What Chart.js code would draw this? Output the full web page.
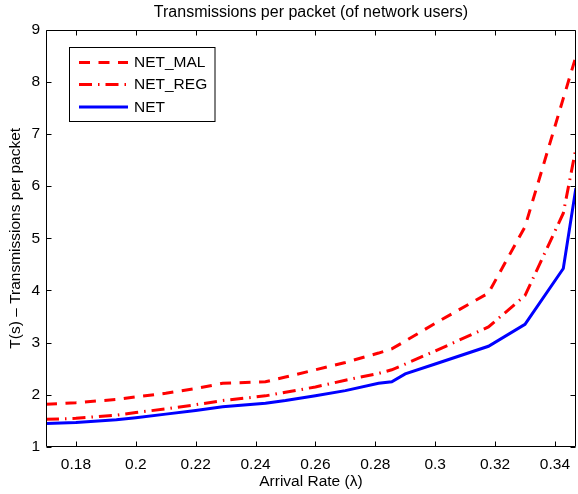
<!DOCTYPE html>
<html><head><meta charset="utf-8">
<script src="https://cdn.jsdelivr.net/npm/chart.js@4/dist/chart.umd.min.js"></script>
<style>html,body{margin:0;padding:0;background:#fff;overflow:hidden}#wrap{width:578px;height:494px}</style>
</head><body><div id="wrap"><canvas id="c" width="578" height="494"></canvas></div>
<script>
// ---- data ----
const arrivalRate = [0.17, 0.18, 0.1935, 0.20, 0.21, 0.22, 0.229, 0.2433, 0.25, 0.26, 0.27, 0.2811, 0.2855, 0.29, 0.30, 0.3178, 0.33, 0.3428, 0.347];
const netMal = [1.82, 1.85, 1.91, 1.96, 2.03, 2.12, 2.22, 2.25, 2.34, 2.48, 2.62, 2.80, 2.88, 3.03, 3.37, 3.95, 5.22, 7.68, 8.48];
const netReg = [1.53, 1.55, 1.61, 1.66, 1.73, 1.81, 1.89, 1.98, 2.05, 2.15, 2.28, 2.41, 2.48, 2.59, 2.84, 3.30, 3.90, 5.48, 6.72];
const net    = [1.45, 1.47, 1.52, 1.56, 1.63, 1.70, 1.77, 1.84, 1.89, 1.98, 2.08, 2.22, 2.25, 2.40, 2.59, 2.93, 3.35, 4.42, 5.96];
const seriesNames = ['NET_MAL', 'NET_REG', 'NET'];
const xTickValues = [0.18, 0.20, 0.22, 0.24, 0.26, 0.28, 0.30, 0.32, 0.34];
const yTickValues = [1, 2, 3, 4, 5, 6, 7, 8, 9];
const chartTitle = 'Transmissions per packet (of network users)';
const xTitle = 'Arrival Rate (\u03bb)';
const yTitle = 'T(s) \u2013 Transmissions per packet';

const FONT = "'Liberation Sans', Arial, Helvetica, sans-serif";
const FS = 15.5;
Chart.defaults.font.family = FONT;
Chart.defaults.font.size = FS;
Chart.defaults.color = '#000';

const toPts = ys => ys.map((y, i) => ({x: arrivalRate[i], y}));

const matlabAxes = {
  id: 'matlabAxes',
  afterDatasetsDraw(chart) {
    const {ctx, chartArea: a, scales: {x, y}} = chart;
    ctx.save();
    ctx.strokeStyle = '#000';
    ctx.lineWidth = 1;
    ctx.setLineDash([]);
    const L = Math.round(a.left) + 0.5, R = Math.round(a.right) - 0.5;
    const T = Math.round(a.top) + 0.5, B = Math.round(a.bottom) - 0.5;
    ctx.beginPath();
    ctx.rect(L, T, R - L, B - T);
    const tl = 5;
    xTickValues.forEach(v => {
      const px = Math.round(x.getPixelForValue(v)) + 0.5;
      ctx.moveTo(px, B); ctx.lineTo(px, B - tl);
      ctx.moveTo(px, T); ctx.lineTo(px, T + tl);
    });
    yTickValues.forEach(v => {
      const py = Math.round(y.getPixelForValue(v)) + 0.5;
      ctx.moveTo(L, py); ctx.lineTo(L + tl, py);
      ctx.moveTo(R, py); ctx.lineTo(R - tl, py);
    });
    ctx.stroke();
    ctx.restore();
  },
  afterDraw(chart) {
    const {ctx, chartArea: a} = chart;
    ctx.save();
    // title centred over the axes, as in the reference
    ctx.fillStyle = '#000';
    ctx.font = '16px ' + FONT;
    ctx.textAlign = 'center';
    ctx.textBaseline = 'middle';
    ctx.fillText(chartTitle, (a.left + a.right) / 2, 12.3);
    // legend
    const bx = 69.5, by = 47.5, bw = 145.5, bh = 74;
    ctx.fillStyle = '#fff';
    ctx.fillRect(bx, by, bw, bh);
    ctx.strokeStyle = '#000';
    ctx.lineWidth = 1;
    ctx.setLineDash([]);
    ctx.strokeRect(bx, by, bw, bh);
    const rows = [62.5, 84.5, 107];
    chart.data.datasets.forEach((ds, i) => {
      ctx.save();
      ctx.strokeStyle = ds.borderColor;
      ctx.lineWidth = ds.borderWidth;
      ctx.lineCap = 'butt';
      ctx.setLineDash(ds.borderDash || []);
      ctx.beginPath();
      ctx.moveTo(79, rows[i]);
      ctx.lineTo(128, rows[i]);
      ctx.stroke();
      ctx.restore();
      ctx.fillStyle = '#000';
      ctx.font = FS + 'px ' + FONT;
      ctx.textBaseline = 'middle';
      ctx.textAlign = 'left';
      ctx.fillText(ds.label, 134, rows[i] + 0.5);
    });
    ctx.restore();
  }
};

new Chart(document.getElementById('c'), {
  type: 'line',
  data: {
    datasets: [
      {label: seriesNames[0], data: toPts(netMal), borderColor: '#ff0000', borderWidth: 3, borderDash: [11, 8.5], pointRadius: 0, tension: 0, fill: false},
      {label: seriesNames[1], data: toPts(netReg), borderColor: '#ff0000', borderWidth: 3, borderDash: [13, 6, 1.5, 6], pointRadius: 0, tension: 0, fill: false},
      {label: seriesNames[2], data: toPts(net), borderColor: '#0000ff', borderWidth: 3, pointRadius: 0, tension: 0, fill: false}
    ]
  },
  options: {
    responsive: false,
    animation: false,
    devicePixelRatio: 1,
    layout: {padding: {left: 0, right: 0, top: 29.5, bottom: 0}},
    plugins: {
      legend: {display: false},
      tooltip: {enabled: false},
      title: {display: false}
    },
    scales: {
      x: {
        type: 'linear', min: 0.17, max: 0.347,
        afterBuildTicks: s => { s.ticks = xTickValues.map(v => ({value: v})); },
        afterFit: s => { s.height = 47; },
        grid: {display: false, drawTicks: false},
        border: {display: false},
        ticks: {padding: 8, color: '#000', maxRotation: 0, autoSkip: false, callback: v => String(Math.round(v * 100) / 100)},
        title: {display: true, text: xTitle, color: '#000', font: {size: FS}, padding: {top: 0, bottom: 3}}
      },
      y: {
        type: 'linear', min: 1, max: 9,
        afterBuildTicks: s => { s.ticks = yTickValues.map(v => ({value: v})); },
        afterFit: s => { s.width = 46; },
        grid: {display: false, drawTicks: false},
        border: {display: false},
        ticks: {padding: 6, color: '#000', autoSkip: false},
        title: {display: true, text: yTitle, color: '#000', font: {size: FS}, padding: {top: 6, bottom: 0}}
      }
    }
  },
  plugins: [matlabAxes]
});
</script></body></html>
